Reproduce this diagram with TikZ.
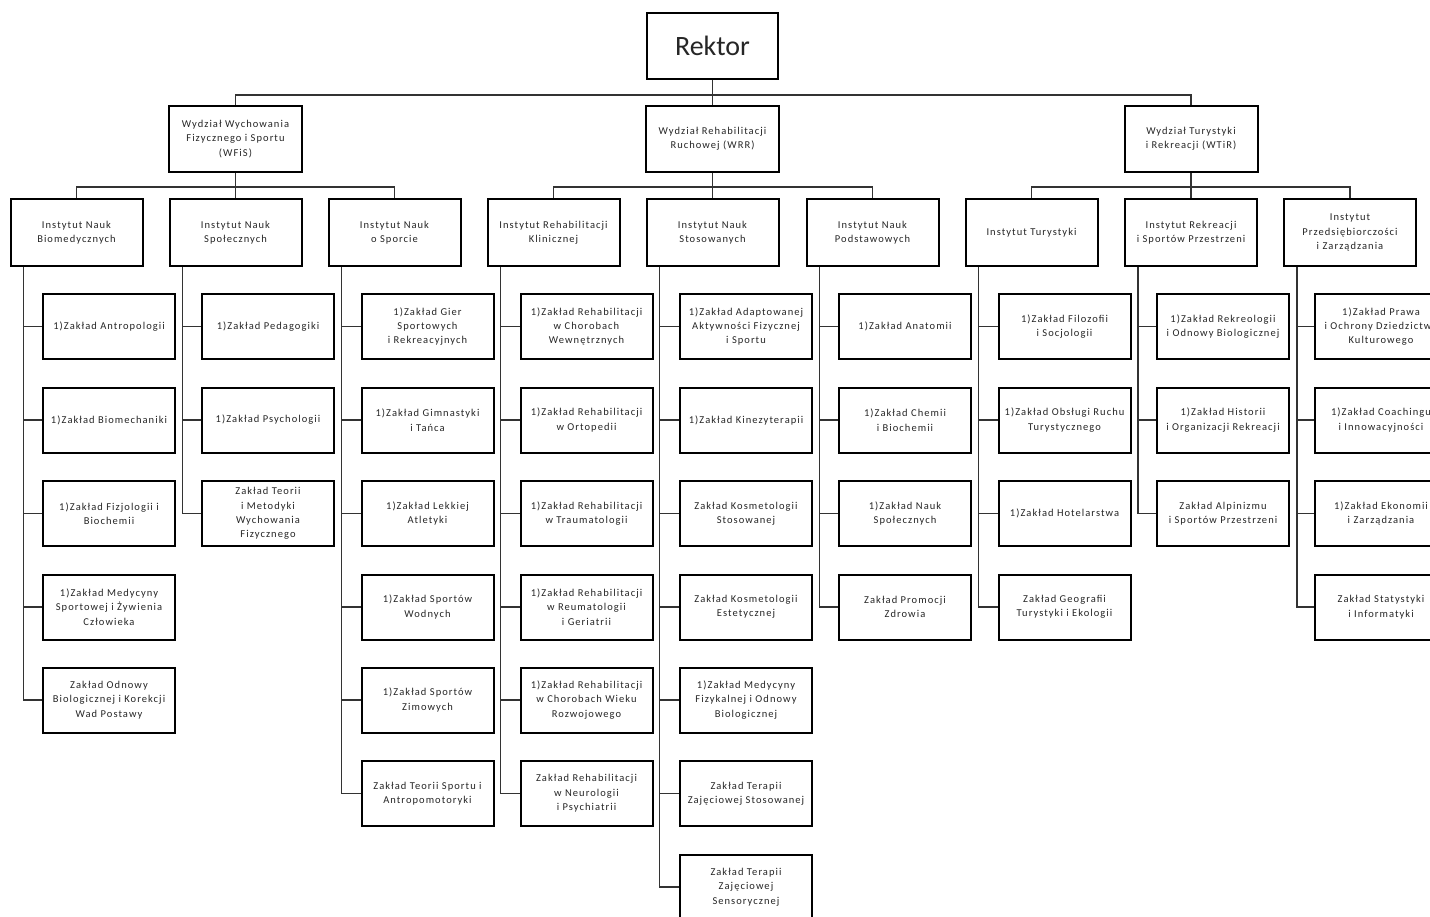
\documentclass[tikz,border=0pt]{standalone}
\usepackage{fontspec}
\setmainfont{Carlito}
\newfontfamily\boxfont[LetterSpace=10]{Carlito}
\usetikzlibrary{calc}
\begin{document}
\begin{tikzpicture}[x=0.5pt,y=-0.5pt,
  box/.style={draw=black,line width=1pt,fill=white,minimum width=66pt,minimum height=32.5pt,
    inner sep=1pt,align=center,font=\boxfont\fontsize{5.25pt}{7.2pt}\selectfont,text=black!85},
  inst/.style={box,minimum height=33.5pt},
  fac/.style={box,minimum width=66.5pt,minimum height=33pt},
  top/.style={box,minimum width=65.5pt,minimum height=33pt,font=\fontsize{14pt}{16pt}\selectfont},
  conn/.style={draw=black!80,line width=0.6pt}]
\clip (0,0) rectangle (1430,916);
\fill[white] (0,0) rectangle (1430,916);

% Rektor and faculties
\node[top] (rek) at (712.5,46) {Rektor};
\node[fac] (f1) at (235.5,139) {Wydział Wychowania\\Fizycznego i Sportu\\(WFiS)};
\node[fac] (f2) at (712.5,139) {Wydział Rehabilitacji\\Ruchowej (WRR)};
\node[fac] (f3) at (1191,139) {Wydział Turystyki\\i Rekreacji (WTiR)};

% Institutes
\node[inst] (i1) at (76.5,232.5) {Instytut Nauk\\Biomedycznych};
\node[inst] (i2) at (235.5,232.5) {Instytut Nauk\\Społecznych};
\node[inst] (i3) at (394.5,232.5) {Instytut Nauk\\o Sporcie};
\node[inst] (i4) at (553.5,232.5) {Instytut Rehabilitacji\\Klinicznej};
\node[inst] (i5) at (712.5,232.5) {Instytut Nauk\\Stosowanych};
\node[inst] (i6) at (872.5,232.5) {Instytut Nauk\\Podstawowych};
\node[inst] (i7) at (1031.5,232.5) {Instytut Turystyki};
\node[inst] (i8) at (1191,232.5) {Instytut Rekreacji\\i Sportów Przestrzeni};
\node[inst] (i9) at (1350,232.5) {Instytut\\Przedsiębiorczości\\i Zarządzania};

% Column 1
\node[box] (d1r1) at (109,326.5) {1)Zakład Antropologii};
\node[box] (d1r2) at (109,420) {1)Zakład Biomechaniki};
\node[box] (d1r3) at (109,513.5) {1)Zakład Fizjologii i\\Biochemii};
\node[box] (d1r4) at (109,607) {1)Zakład Medycyny\\Sportowej i Żywienia\\Człowieka};
\node[box] (d1r5) at (109,700) {Zakład Odnowy\\Biologicznej i Korekcji\\Wad Postawy};
% Column 2
\node[box] (d2r1) at (268,326.5) {1)Zakład Pedagogiki};
\node[box] (d2r2) at (268,420) {1)Zakład Psychologii};
\node[box] (d2r3) at (268,513.5) {Zakład Teorii\\i Metodyki\\Wychowania\\Fizycznego};
% Column 3
\node[box] (d3r1) at (427.5,326.5) {1)Zakład Gier\\Sportowych\\i Rekreacyjnych};
\node[box] (d3r2) at (427.5,420) {1)Zakład Gimnastyki\\i Tańca};
\node[box] (d3r3) at (427.5,513.5) {1)Zakład Lekkiej\\Atletyki};
\node[box] (d3r4) at (427.5,607) {1)Zakład Sportów\\Wodnych};
\node[box] (d3r5) at (427.5,700) {1)Zakład Sportów\\Zimowych};
\node[box] (d3r6) at (427.5,793.5) {Zakład Teorii Sportu i\\Antropomotoryki};
% Column 4
\node[box] (d4r1) at (586.5,326.5) {1)Zakład Rehabilitacji\\w Chorobach\\Wewnętrznych};
\node[box] (d4r2) at (586.5,420) {1)Zakład Rehabilitacji\\w Ortopedii};
\node[box] (d4r3) at (586.5,513.5) {1)Zakład Rehabilitacji\\w Traumatologii};
\node[box] (d4r4) at (586.5,607) {1)Zakład Rehabilitacji\\w Reumatologii\\i Geriatrii};
\node[box] (d4r5) at (586.5,700) {1)Zakład Rehabilitacji\\w Chorobach Wieku\\Rozwojowego};
\node[box] (d4r6) at (586.5,793.5) {Zakład Rehabilitacji\\w Neurologii\\i Psychiatrii};
% Column 5
\node[box] (d5r1) at (746,326.5) {1)Zakład Adaptowanej\\Aktywności Fizycznej\\i Sportu};
\node[box] (d5r2) at (746,420) {1)Zakład Kinezyterapii};
\node[box] (d5r3) at (746,513.5) {Zakład Kosmetologii\\Stosowanej};
\node[box] (d5r4) at (746,607) {Zakład Kosmetologii\\Estetycznej};
\node[box] (d5r5) at (746,700) {1)Zakład Medycyny\\Fizykalnej i Odnowy\\Biologicznej};
\node[box] (d5r6) at (746,793.5) {Zakład Terapii\\Zajęciowej Stosowanej};
\node[box] (d5r7) at (746,887) {Zakład Terapii\\Zajęciowej\\Sensorycznej};
% Column 6
\node[box] (d6r1) at (905,326.5) {1)Zakład Anatomii};
\node[box] (d6r2) at (905,420) {1)Zakład Chemii\\i Biochemii};
\node[box] (d6r3) at (905,513.5) {1)Zakład Nauk\\Społecznych};
\node[box] (d6r4) at (905,607) {Zakład Promocji\\Zdrowia};
% Column 7
\node[box] (d7r1) at (1064.5,326.5) {1)Zakład Filozofii\\i Socjologii};
\node[box] (d7r2) at (1064.5,420) {1)Zakład Obsługi Ruchu\\Turystycznego};
\node[box] (d7r3) at (1064.5,513.5) {1)Zakład Hotelarstwa};
\node[box] (d7r4) at (1064.5,607) {Zakład Geografii\\Turystyki i Ekologii};
% Column 8
\node[box] (d8r1) at (1223,326.5) {1)Zakład Rekreologii\\i Odnowy Biologicznej};
\node[box] (d8r2) at (1223,420) {1)Zakład Historii\\i Organizacji Rekreacji};
\node[box] (d8r3) at (1223,513.5) {Zakład Alpinizmu\\i Sportów Przestrzeni};
% Column 9
\node[box] (d9r1) at (1381,326.5) {1)Zakład Prawa\\i Ochrony Dziedzictwa\\Kulturowego};
\node[box] (d9r2) at (1381,420) {1)Zakład Coachingu\\i Innowacyjności};
\node[box] (d9r3) at (1381,513.5) {1)Zakład Ekonomii\\i Zarządzania};
\node[box] (d9r4) at (1381,607) {Zakład Statystyki\\i Informatyki};

% Connectors: Rektor -> faculties
\coordinate (b0) at (712.5,95);
\draw[conn] (rek.south) -- (b0) -- (f2.north);
\draw[conn] (f1.north) |- (b0) -| (f3.north);
% Faculties -> institutes
\coordinate (b1) at (235.5,187);
\coordinate (b2) at (712.5,187);
\coordinate (b3) at (1191,187);
\draw[conn] (f1.south) -- (i2.north);
\draw[conn] (i1.north) |- (b1) -| (i3.north);
\draw[conn] (f2.south) -- (i5.north);
\draw[conn] (i4.north) |- (b2) -| (i6.north);
\draw[conn] (f3.south) -- (i8.north);
\draw[conn] (i7.north) |- (b3) -| (i9.north);

% Institute spines
\foreach \c/\n in {1/5,2/3,3/6,4/6,5/7,6/4,7/4,8/3,9/4}{
  \foreach \k in {1,...,\n}{
    \draw[conn] ($(i\c.south west)+(14,0)$) |- (d\c r\k.west);
  }
}
\end{tikzpicture}
\end{document}
